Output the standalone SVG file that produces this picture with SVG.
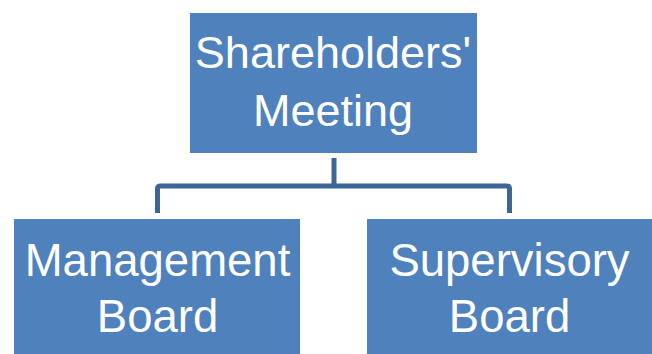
<svg xmlns="http://www.w3.org/2000/svg" width="652" height="354" viewBox="0 0 652 354">
<style>
.box{fill:#4F81BD;}
.t{font-family:"Liberation Sans",Arial,sans-serif;font-size:45.5px;fill:#FFFFFF;text-anchor:middle;}
.c{fill:none;stroke:#3D6597;stroke-width:5;stroke-linejoin:round;}
</style>
<rect width="652" height="354" fill="#FFFFFF"/>
<g id="connectors">
<path class="c" d="M334 158 V186"/>
<path class="c" d="M157.5 213 V189 Q157.5 186 160.5 186 H506.5 Q509.5 186 509.5 189 V213"/>
</g>
<g id="shareholders">
<rect class="box" x="190" y="13" width="287" height="140"/>
<text class="t" x="333" y="68" style="font-size:45px">Shareholders'</text>
<text class="t" x="333" y="126" style="font-size:45px">Meeting</text>
</g>
<g id="management">
<rect class="box" x="14" y="219" width="286" height="135"/>
<text class="t" x="157.5" y="276">Management</text>
<text class="t" x="157.5" y="332">Board</text>
</g>
<g id="supervisory">
<rect class="box" x="367" y="219" width="285" height="135"/>
<text class="t" x="509.5" y="276">Supervisory</text>
<text class="t" x="509.5" y="332">Board</text>
</g>
</svg>
